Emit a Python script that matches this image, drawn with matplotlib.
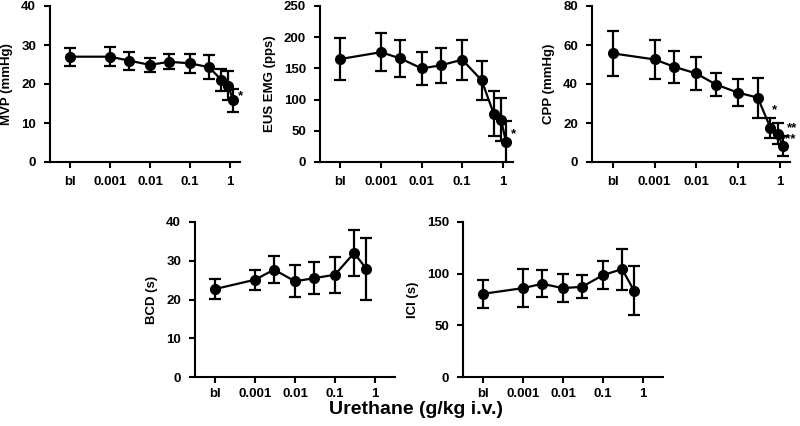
import matplotlib
matplotlib.use("Agg")
import matplotlib.pyplot as plt
import numpy as np

plt.rcParams['font.family'] = ['Liberation Sans', 'DejaVu Sans']
plt.rcParams['font.weight'] = 'bold'

# baseline ("bl") is drawn one decade left of 0.001
doses_top = [0.0001, 0.001, 0.003, 0.01, 0.03, 0.1, 0.3, 0.6, 0.9, 1.2]
doses_bot = [0.0001, 0.001, 0.003, 0.01, 0.03, 0.1, 0.3, 0.6]
tick_pos = [0.0001, 0.001, 0.01, 0.1, 1]
tick_labels = ['bl', '0.001', '0.01', '0.1', '1']

mvp = [27.0, 27.0, 26.0, 24.9, 25.7, 25.3, 24.3, 21.1, 19.6, 15.8]
mvp_err = [2.3, 2.5, 2.3, 1.8, 1.9, 2.5, 3.1, 2.8, 3.7, 3.0]

eus = [165, 176, 166, 150, 155, 164, 131, 77, 68, 32]
eus_err = [34, 30, 29, 27, 28, 32, 31, 36, 35, 33]

cpp = [55.7, 52.6, 48.8, 45.4, 39.7, 35.6, 33.0, 17.6, 14.6, 8.2]
cpp_err = [11.7, 9.9, 8.2, 8.4, 6.0, 7.1, 10.2, 5.2, 5.5, 5.1]

bcd = [22.7, 25.1, 27.7, 24.7, 25.5, 26.4, 32.0, 28.0]
bcd_err = [2.6, 2.6, 3.5, 4.1, 4.1, 4.6, 6.0, 8.0]

ici = [80.5, 86.0, 90.2, 86.0, 87.3, 98.6, 104.4, 83.4]
ici_err = [13.7, 18.1, 13.2, 13.3, 11.3, 13.2, 19.9, 23.6]

W, H = 800, 426
fig = plt.figure(figsize=(W / 100, H / 100), dpi=100)


def make_ax(x0, y0, x1, y1):
    # pixel box measured from the top-left corner
    return fig.add_axes([x0 / W, 1 - y1 / H, (x1 - x0) / W, (y1 - y0) / H])


def panel(ax, x, y, err, ylim, yticks, ylabel, xmax, xpad=6):
    ax.errorbar(x, y, yerr=err, color='black', lw=1.6, marker='o', ms=7,
                capsize=4, capthick=1.6, elinewidth=1.6)
    ax.set_xscale('log')
    ax.set_xlim(10 ** -4.5, xmax)
    ax.set_ylim(*ylim)
    ax.set_yticks(yticks)
    ax.set_xticks(tick_pos)
    ax.set_xticklabels(tick_labels)
    ax.xaxis.set_minor_locator(matplotlib.ticker.NullLocator())
    ax.spines['top'].set_visible(False)
    ax.spines['right'].set_visible(False)
    for s in ['left', 'bottom']:
        ax.spines[s].set_linewidth(1.5)
    ax.tick_params(width=1.5, length=4, labelsize=9.5, pad=6)
    ax.tick_params(axis='x', pad=xpad)
    ax.set_ylabel(ylabel, fontsize=9.5, fontweight='bold', labelpad=6)
    for lab in ax.get_xticklabels() + ax.get_yticklabels():
        lab.set_fontweight('bold')


def star(ax, x, y, s, ha='center'):
    ax.text(x, y, s, fontsize=9.5, fontweight='bold', ha=ha, va='center')


ax1 = make_ax(50, 6, 240, 162)
panel(ax1, doses_top, mvp, mvp_err, (0, 40), [0, 10, 20, 30, 40], 'MVP (mmHg)', 10 ** 0.25)
star(ax1, 10 ** 0.27, 17, '*')

ax2 = make_ax(320, 6, 513, 162)
panel(ax2, doses_top, eus, eus_err, (0, 250), [0, 50, 100, 150, 200, 250], 'EUS EMG (pps)', 10 ** 0.25)
star(ax2, 10 ** 0.27, 44, '*')

ax3 = make_ax(592, 6, 790, 162)
panel(ax3, doses_top, cpp, cpp_err, (0, 80), [0, 20, 40, 60, 80], 'CPP (mmHg)', 10 ** 0.25)
star(ax3, 0.75, 26.5, '*')
star(ax3, 10 ** 0.17, 17.5, '**', ha='left')
star(ax3, 10 ** 0.04, 11.5, '***', ha='left')

ax4 = make_ax(195, 222, 395, 377)
panel(ax4, doses_bot, bcd, bcd_err, (0, 40), [0, 10, 20, 30, 40], 'BCD (s)', 10 ** 0.5, xpad=4)

ax5 = make_ax(463, 222, 663, 377)
panel(ax5, doses_bot, ici, ici_err, (0, 150), [0, 50, 100, 150], 'ICI (s)', 10 ** 0.5, xpad=4)

fig.text(416 / W, 1 - 410 / H, 'Urethane (g/kg i.v.)', fontsize=14, fontweight='bold',
         ha='center', va='center')

fig.savefig('out.png', dpi=100)
